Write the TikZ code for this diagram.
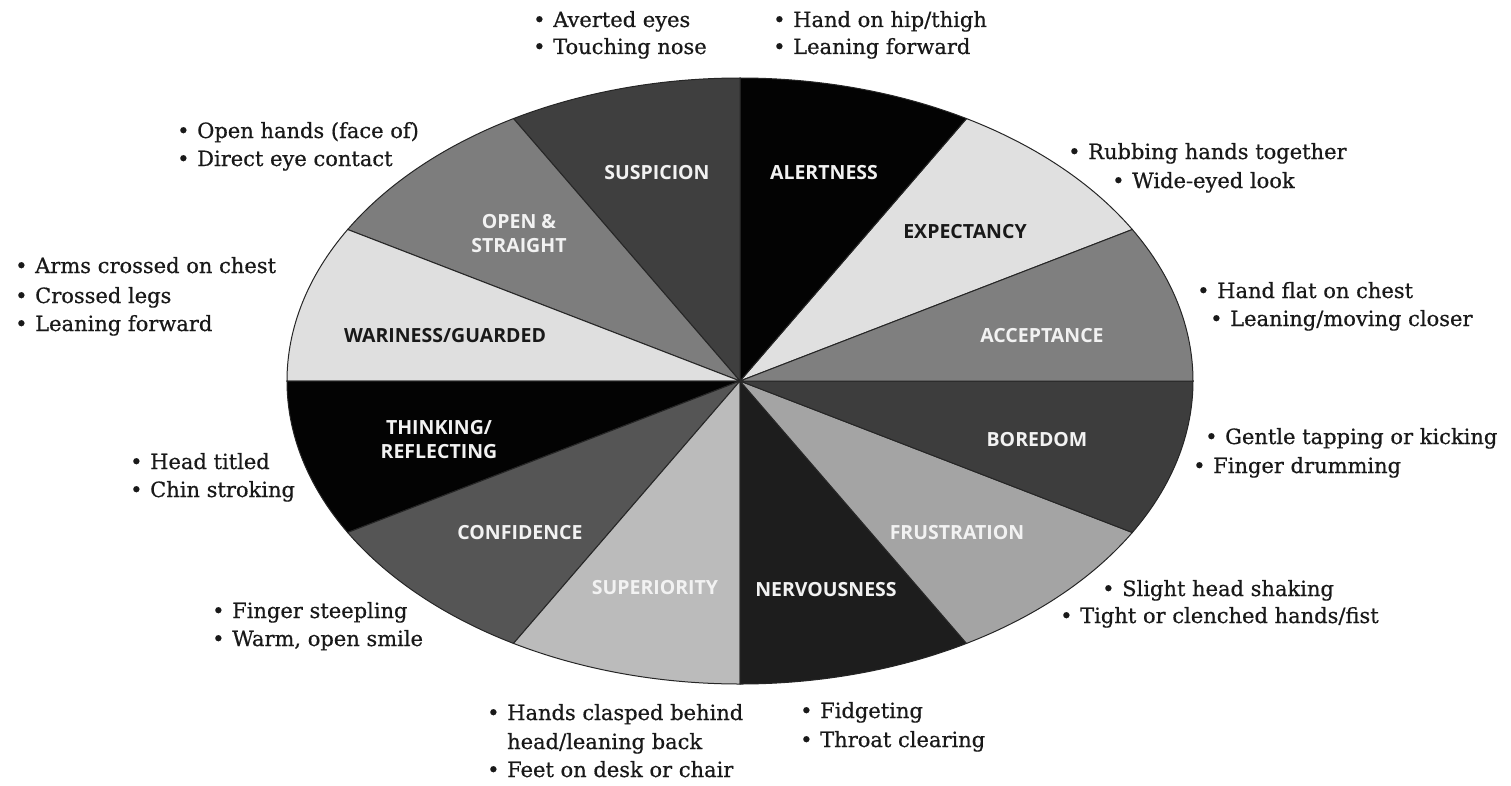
\documentclass[tikz,border=0pt]{standalone}
\usepackage{fontspec}
\setmainfont{DejaVu Serif}
\newfontfamily\cuefamily{DejaVu Serif}[FakeBold=0.6]
\newfontfamily\moodfamily{Open Sans}
\definecolor{alertc}{HTML}{030303}
\definecolor{expectc}{HTML}{E0E0E0}
\definecolor{acceptc}{HTML}{7F7F7F}
\definecolor{boredc}{HTML}{3D3D3D}
\definecolor{frustc}{HTML}{A4A4A4}
\definecolor{nervc}{HTML}{1D1D1D}
\definecolor{superc}{HTML}{BBBBBB}
\definecolor{confc}{HTML}{555555}
\definecolor{thinkc}{HTML}{030303}
\definecolor{waryc}{HTML}{DFDFDF}
\definecolor{openc}{HTML}{7D7D7D}
\definecolor{suspc}{HTML}{3F3F3F}
\newcommand{\cue}{\llap{\makebox[20pt][l]{\textbullet}}}
\begin{document}
\begin{tikzpicture}[x=1pt,y=1pt,
    sector/.style={draw=black!85,line width=1pt},
    mood/.style={font=\moodfamily\bfseries\fontsize{19.5}{24}\selectfont,text=white!95!black,align=center},
    cue/.style={font=\cuefamily\fontsize{21}{24}\selectfont,anchor=base west,inner sep=0pt,text=black!90}]
    \useasboundingbox (-740,-404) rectangle (771,381);
    \coordinate (O) at (0,0) ;
    % the twelve sectors
    \filldraw[sector,fill=expectc] (O) -- (30:453 and 303) arc[start angle=30,end angle=60,x radius=453,y radius=303] -- cycle;
    \filldraw[sector,fill=alertc] (O) -- (60:453 and 303) arc[start angle=60,end angle=90,x radius=453,y radius=303] -- cycle;
    \filldraw[sector,fill=suspc] (O) -- (90:453 and 303) arc[start angle=90,end angle=120,x radius=453,y radius=303] -- cycle;
    \filldraw[sector,fill=openc] (O) -- (120:453 and 303) arc[start angle=120,end angle=150,x radius=453,y radius=303] -- cycle;
    \filldraw[sector,fill=waryc] (O) -- (150:453 and 303) arc[start angle=150,end angle=180,x radius=453,y radius=303] -- cycle;
    \filldraw[sector,fill=thinkc] (O) -- (180:453 and 303) arc[start angle=180,end angle=210,x radius=453,y radius=303] -- cycle;
    \filldraw[sector,fill=confc] (O) -- (210:453 and 303) arc[start angle=210,end angle=240,x radius=453,y radius=303] -- cycle;
    \filldraw[sector,fill=superc] (O) -- (240:453 and 303) arc[start angle=240,end angle=270,x radius=453,y radius=303] -- cycle;
    \filldraw[sector,fill=nervc] (O) -- (270:453 and 303) arc[start angle=270,end angle=300,x radius=453,y radius=303] -- cycle;
    \filldraw[sector,fill=frustc] (O) -- (300:453 and 303) arc[start angle=300,end angle=330,x radius=453,y radius=303] -- cycle;
    \filldraw[sector,fill=boredc] (O) -- (330:453 and 303) arc[start angle=330,end angle=360,x radius=453,y radius=303] -- cycle;
    \filldraw[sector,fill=acceptc] (O) -- (0:453 and 303) arc[start angle=0,end angle=30,x radius=453,y radius=303] -- cycle;
    % sector labels
    \node[mood] (suspicion) at (-83,208) {SUSPICION};
    \node[mood] (alertness) at (84,208) {ALERTNESS};
    \node[mood,text=black!90] (expectancy) at (225,149) {EXPECTANCY};
    \node[mood] (acceptance) at (302,45) {ACCEPTANCE};
    \node[mood] (boredom) at (297,-59) {BOREDOM};
    \node[mood] (frustration) at (217,-152) {FRUSTRATION};
    \node[mood] (nervousness) at (86,-209) {NERVOUSNESS};
    \node[mood] (superiority) at (-85,-207) {SUPERIORITY};
    \node[mood] (confidence) at (-220,-152) {CONFIDENCE};
    \node[mood] (thinking) at (-301,-59) {THINKING/\\REFLECTING};
    \node[mood,text=black!90] (wariness) at (-295,45) {WARINESS/GUARDED};
    \node[mood] (open) at (-221,147) {OPEN \&\\STRAIGHT};
    % cues round the ellipse
    \node[cue] (averted) at (-187,354) {\cue Averted eyes};
    \node[cue] (nose) at (-187,327) {\cue Touching nose};
    \node[cue] (hip) at (53,354) {\cue Hand on hip/thigh};
    \node[cue] (leanA) at (53,327) {\cue Leaning forward};
    \node[cue] (palms) at (-543,243) {\cue Open hands (face of)};
    \node[cue] (eyes) at (-543,215) {\cue Direct eye contact};
    \node[cue] (rubbing) at (348,222) {\cue Rubbing hands together};
    \node[cue] (wide) at (392,193) {\cue Wide-eyed look};
    \node[cue] (arms) at (-705,108) {\cue Arms crossed on chest};
    \node[cue] (legs) at (-705,78) {\cue Crossed legs};
    \node[cue] (leanB) at (-705,50) {\cue Leaning forward};
    \node[cue] (chest) at (477,83) {\cue Hand flat on chest};
    \node[cue] (closer) at (490,55) {\cue Leaning/moving closer};
    \node[cue] (tapping) at (485,-63) {\cue Gentle tapping or kicking};
    \node[cue] (drumming) at (473,-92) {\cue Finger drumming};
    \node[cue] (head) at (-590,-88) {\cue Head titled};
    \node[cue] (chin) at (-590,-116) {\cue Chin stroking};
    \node[cue] (shaking) at (382,-215) {\cue Slight head shaking};
    \node[cue] (fist) at (340,-242) {\cue Tight or clenched hands/fist};
    \node[cue] (steepling) at (-508,-237) {\cue Finger steepling};
    \node[cue] (smile) at (-508,-265) {\cue Warm, open smile};
    \node[cue] (clasped) at (-233,-339) {\cue Hands clasped behind};
    \node[cue] (back) at (-233,-368) {head/leaning back};
    \node[cue] (desk) at (-233,-396) {\cue Feet on desk or chair};
    \node[cue] (fidget) at (80,-337) {\cue Fidgeting};
    \node[cue] (throat) at (80,-366) {\cue Throat clearing};
\end{tikzpicture}
\end{document}
